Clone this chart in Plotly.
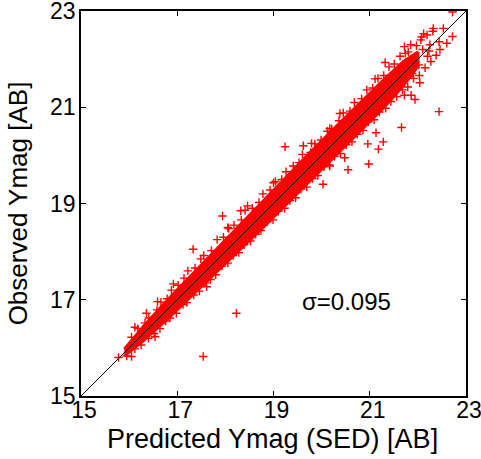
import plotly.graph_objects as go

# 1:1 reference line
diag = [15, 23]

# dense core envelope of the scatter band
band_x = [15.9, 16.3, 16.8, 17.3, 17.8, 18.3, 18.8, 19.3, 19.8, 20.3, 20.8, 21.3, 21.7, 22.0]
band_upper = [15.97, 16.45, 17.00, 17.52, 18.04, 18.56, 19.08, 19.58, 20.10, 20.60, 21.10, 21.58, 21.95, 22.15]
band_lower = [15.83, 16.15, 16.60, 17.08, 17.56, 18.04, 18.52, 19.02, 19.50, 20.00, 20.50, 21.00, 21.45, 21.85]

# individual points along the upper edge of the band
up_pred = [16.05, 16.18, 16.33, 16.41, 16.58, 16.66, 16.79, 16.88, 17.02, 17.14, 17.22, 17.37, 17.49, 17.55,
           17.71, 17.83, 17.96, 18.07, 18.18, 18.33, 18.41, 18.56, 18.70, 18.78, 18.93, 19.04, 19.17, 19.26,
           19.41, 19.53, 19.60, 19.77, 19.86, 19.99, 20.12, 20.21, 20.36, 20.45, 20.59, 20.68, 20.83, 20.94,
           21.06, 21.17, 21.29, 21.40, 21.51, 21.63, 21.74, 21.85, 21.97, 22.08, 22.19, 22.31]
up_obs = [16.22, 16.40, 16.52, 16.62, 16.79, 16.95, 17.02, 17.20, 17.30, 17.45, 17.60, 17.66, 17.85, 17.92,
          18.02, 18.25, 18.30, 18.48, 18.55, 18.66, 18.86, 18.90, 19.02, 19.20, 19.28, 19.46, 19.50, 19.66,
          19.78, 19.85, 20.02, 20.06, 20.24, 20.32, 20.50, 20.55, 20.72, 20.88, 20.92, 21.10, 21.18, 21.36,
          21.40, 21.60, 21.66, 21.84, 21.90, 22.06, 22.12, 22.30, 22.28, 22.46, 22.50, 22.58]

# individual points along the lower edge of the band
lo_pred = [16.12, 16.25, 16.40, 16.52, 16.64, 16.76, 16.85, 16.98, 17.12, 17.20, 17.34, 17.46, 17.58, 17.69,
           17.80, 17.93, 18.05, 18.16, 18.28, 18.39, 18.52, 18.63, 18.74, 18.87, 18.99, 19.10, 19.23, 19.34,
           19.46, 19.57, 19.69, 19.81, 19.92, 20.05, 20.16, 20.27, 20.39, 20.51, 20.63, 20.74, 20.86, 20.97,
           21.09, 21.20, 21.33, 21.44, 21.56, 21.68, 21.79, 21.91, 22.03, 22.15, 22.27, 22.38, 22.46]
lo_obs = [15.98, 16.06, 16.20, 16.30, 16.40, 16.56, 16.62, 16.72, 16.90, 16.94, 17.10, 17.18, 17.35, 17.42,
          17.52, 17.70, 17.76, 17.92, 17.98, 18.14, 18.22, 18.36, 18.44, 18.62, 18.66, 18.84, 18.90, 19.06,
          19.12, 19.30, 19.34, 19.52, 19.58, 19.76, 19.80, 19.98, 20.04, 20.22, 20.28, 20.44, 20.52, 20.70,
          20.74, 20.90, 20.98, 21.12, 21.22, 21.36, 21.42, 21.60, 21.66, 21.82, 21.95, 22.08, 22.20]

# outliers
out_pred = [22.72, 22.44, 21.94, 21.66, 20.98, 20.96, 21.18, 21.28, 21.13, 20.55, 20.48, 20.03, 20.17,
            19.24, 19.62, 19.79, 21.11, 21.32, 20.38, 20.17, 18.23, 17.54, 17.33, 17.94, 18.32, 18.05,
            18.46, 16.92, 17.61, 16.54, 16.12, 15.95, 15.78, 16.05, 16.36, 16.59, 19.00, 21.72, 22.06,
            22.32, 22.53, 22.72, 22.60, 22.44, 22.23, 22.20, 22.04, 21.86, 21.72, 21.80, 22.02, 22.12,
            21.95, 22.10, 21.88, 22.25]
out_obs = [22.98, 20.91, 21.16, 20.58, 19.82, 20.24, 20.13, 20.28, 20.47, 19.70, 19.95, 19.40, 19.78,
           20.18, 20.20, 20.25, 21.59, 21.93, 20.87, 20.56, 16.72, 15.82, 18.05, 18.74, 18.85, 18.50,
           18.95, 17.33, 17.27, 16.23, 16.43, 15.83, 15.80, 15.82, 16.72, 16.96, 19.43, 22.26, 22.40,
           22.64, 22.64, 22.47, 22.33, 22.36, 22.17, 22.06, 21.51, 21.25, 21.25, 22.15, 21.88, 22.53,
           22.02, 22.20, 21.70, 22.30]

ticks = [15, 17, 19, 21, 23]
sigma_label = "σ=0.095"
x_title = "Predicted Ymag (SED) [AB]"
y_title = "Observed Ymag [AB]"

RED = "#ff0000"
FONT = "Liberation Sans, Arial, sans-serif"
cross = dict(symbol="cross-thin", size=6, line=dict(color=RED, width=1.4))

fig = go.Figure()
fig.add_trace(go.Scatter(
    x=band_x + band_x[::-1], y=band_upper + band_lower[::-1],
    fill="toself", fillcolor=RED, mode="lines",
    line=dict(color=RED, width=3), hoverinfo="skip", showlegend=False))
for xs, ys in [(up_pred, up_obs), (lo_pred, lo_obs), (out_pred, out_obs)]:
    fig.add_trace(go.Scatter(x=xs, y=ys, mode="markers", marker=cross, showlegend=False))
fig.add_trace(go.Scatter(
    x=diag, y=diag, mode="lines", line=dict(color="black", width=1),
    showlegend=False))

axis_common = dict(
    range=[15, 23], tickvals=ticks, ticktext=[str(t) for t in ticks],
    ticks="inside", ticklen=5, tickwidth=1, tickcolor="black",
    showline=True, linecolor="black", linewidth=1.5, mirror="ticks",
    showgrid=False, zeroline=False, automargin=False, ticklabeloverflow="allow",
    tickfont=dict(family=FONT, size=23, color="black"),
)
fig.update_layout(
    width=481, height=459,
    margin=dict(l=81, r=15, t=11, b=63),
    paper_bgcolor="white", plot_bgcolor="white",
    font=dict(family=FONT, color="black"),
    xaxis=dict(**axis_common, ticklabelstandoff=-7, ticklabelshift=3),
    yaxis=dict(**axis_common, ticklabelstandoff=-1),
    annotations=[
        dict(x=20.52, y=16.96, xref="x", yref="y", text=sigma_label, showarrow=False,
             font=dict(family=FONT, size=24, color="black")),
        dict(x=0.497, y=-0.112, xref="paper", yref="paper", text=x_title, showarrow=False,
             xanchor="center", yanchor="middle", font=dict(family=FONT, size=27, color="black")),
        dict(x=-0.163, y=0.501, xref="paper", yref="paper", text=y_title, showarrow=False,
             textangle=-90, xanchor="center", yanchor="middle",
             font=dict(family=FONT, size=26, color="black")),
    ],
)
fig.write_html("out.html")
